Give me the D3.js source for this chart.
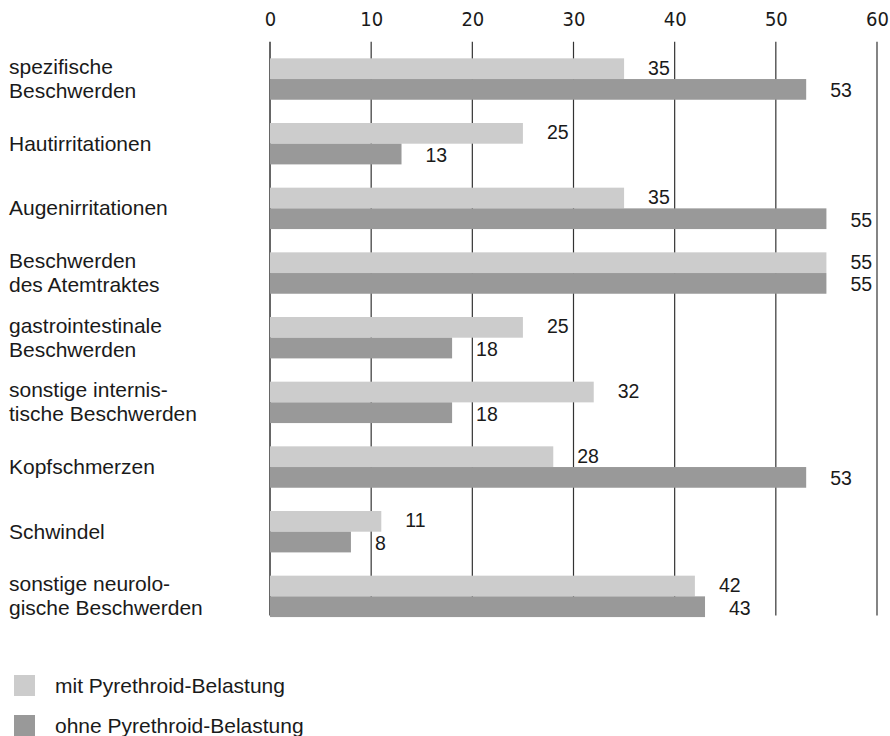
<!DOCTYPE html>
<html>
<head>
<meta charset="utf-8">
<script src="https://cdn.jsdelivr.net/npm/d3@7"></script>
<style>
  html, body { margin: 0; padding: 0; background: #fff; }
  svg { display: block; }
  .lbl { font-family: "Liberation Sans", Arial, sans-serif; font-size: 21px; fill: #1a1a1a; }
  .val { font-size: 19.5px; }
  .tick text { font-family: "DejaVu Sans Condensed", "Liberation Sans", sans-serif; font-size: 20px; fill: #1a1a1a; }
</style>
</head>
<body>
<svg id="chart" width="890" height="736"></svg>
<script>
// Symptom categories (line breaks as printed)
const categories = [
  "spezifische\nBeschwerden",
  "Hautirritationen",
  "Augenirritationen",
  "Beschwerden\ndes Atemtraktes",
  "gastrointestinale\nBeschwerden",
  "sonstige internis-\ntische Beschwerden",
  "Kopfschmerzen",
  "Schwindel",
  "sonstige neurolo-\ngische Beschwerden"
];
const seriesNames = ["mit Pyrethroid-Belastung", "ohne Pyrethroid-Belastung"];
const mitValues  = [35, 25, 35, 55, 25, 32, 28, 11, 42];
const ohneValues = [53, 13, 55, 55, 18, 18, 53,  8, 43];
const tickValues = [0, 10, 20, 30, 40, 50, 60];
const colors = ["#cccccc", "#999999"];

const svg = d3.select("#chart");

const x = d3.scaleLinear().domain([0, 60]).range([270, 877]);
const y = d3.scaleBand().domain(categories).range([46.7, 628.7]).padding(0);
const sub = d3.scaleBand().domain(seriesNames).range([-20.7, 20.7]).padding(0);

const gridTop = 41.7, gridBottom = 615.5;

// vertical gridlines
svg.append("g").selectAll("line").data(tickValues).join("line")
  .attr("x1", d => x(d)).attr("x2", d => x(d))
  .attr("y1", gridTop).attr("y2", gridBottom)
  .attr("stroke", "#333").attr("stroke-width", d => d === 0 ? 1.5 : 1.2);

// top tick labels
svg.append("g")
  .attr("transform", `translate(0,${gridTop})`)
  .call(d3.axisTop(x).tickValues(tickValues).tickSize(0).tickPadding(15.7).tickFormat(d3.format("d")))
  .call(g => g.select(".domain").remove());

const rows = categories.map((c, i) => ({ cat: c, vals: [mitValues[i], ohneValues[i]] }));

const row = svg.append("g").selectAll("g").data(rows).join("g")
  .attr("transform", d => `translate(0,${y(d.cat) + y.bandwidth() / 2})`);

// bars
row.selectAll("rect").data(d => d.vals.map((v, j) => ({ v, s: seriesNames[j], j }))).join("rect")
  .attr("x", x(0))
  .attr("y", d => sub(d.s))
  .attr("width", d => x(d.v) - x(0))
  .attr("height", sub.bandwidth())
  .attr("fill", d => colors[d.j]);

// value labels
row.selectAll("text.val").data(d => d.vals.map((v, j) => ({ v, s: seriesNames[j], j }))).join("text")
  .attr("class", "lbl val")
  .attr("x", d => x(d.v) + 24)
  .attr("y", d => sub(d.s) + sub.bandwidth() / 2 + 7 + (d.j === 0 ? -1 : 1))
  .text(d => d.v);

// category labels
row.each(function(d) {
  const lines = d.cat.split("\n");
  const t = d3.select(this).append("text").attr("class", "lbl").attr("x", 9);
  const first = 7 - (lines.length - 1) * 12;
  lines.forEach((ln, k) => {
    t.append("tspan").attr("x", 9).attr("y", first + k * 24).text(ln);
  });
});

// legend
const legend = svg.append("g").selectAll("g").data(seriesNames).join("g")
  .attr("transform", (d, i) => `translate(14,${675 + i * 40})`);
legend.append("rect").attr("width", 21).attr("height", 21).attr("fill", (d, i) => colors[i]);
legend.append("text").attr("class", "lbl").attr("x", 41).attr("y", 18).text(d => d);
</script>
</body>
</html>
